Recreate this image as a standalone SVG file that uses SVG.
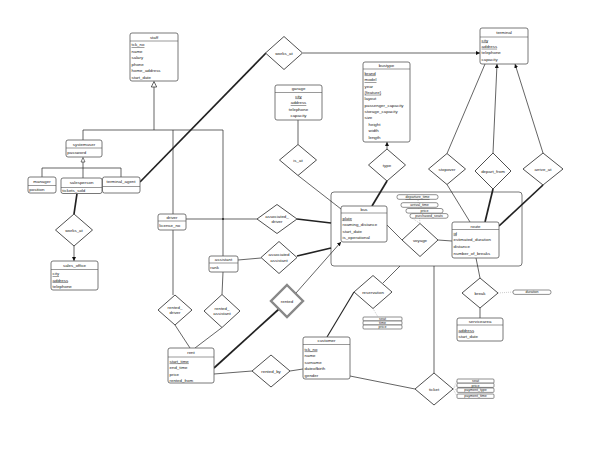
<svg xmlns="http://www.w3.org/2000/svg" width="600" height="460" viewBox="0 0 600 460">
<defs>
<marker id="ah" viewBox="0 0 6 6" refX="6" refY="3" markerWidth="4" markerHeight="4" orient="auto" markerUnits="userSpaceOnUse">
<path d="M0,0 L6,3 L0,6 z" fill="#111"/>
</marker>
<style>
.bx{fill:#fff;stroke:#555;stroke-width:0.8}
.sp{stroke:#555;stroke-width:0.6}
.t{font-family:"Liberation Sans",Arial,sans-serif;font-size:4.4px;fill:#222}
.c{text-anchor:middle}
.u{text-decoration:underline}
.s{font-size:3.6px}
.ln{stroke:#222;stroke-width:0.7;fill:none}
.tk{stroke:#222;stroke-width:1.7;fill:none}
.dm{fill:#fff;stroke:#222;stroke-width:0.8}
.at{fill:#fff;stroke:#444;stroke-width:0.6}
.ds{stroke:#aaa;stroke-width:0.6;stroke-dasharray:1 1;fill:none}
</style>
</defs>
<rect width="600" height="460" fill="#fff"/>
<g id="aggregation"><rect x="331" y="192" width="191" height="74" rx="3" fill="none" stroke="#555" stroke-width="0.8"/></g>
<g id="connectors">
<line class="ln" x1="154" y1="87" x2="154" y2="130"/>
<polyline class="ln" points="83,140 83,130 223,130 223,256"/>
<line class="ln" x1="173" y1="130" x2="173" y2="214"/>
<line class="ln" x1="83" y1="162" x2="83" y2="178"/>
<polyline class="ln" points="42,177 42,168 121,168 121,177"/>
<line class="tk" x1="140" y1="182" x2="266" y2="53"/>
<line class="ln" x1="303" y1="53" x2="480" y2="53" marker-end="url(#ah)"/>
<line class="tk" x1="77" y1="193.5" x2="74" y2="214"/>
<line class="ln" x1="74" y1="246" x2="74" y2="261" marker-end="url(#ah)"/>
<line class="ln" x1="298" y1="120" x2="298" y2="144.5"/>
<line class="ln" x1="298" y1="175.5" x2="341" y2="209"/>
<line class="ln" x1="387" y1="149" x2="387" y2="142" marker-end="url(#ah)"/>
<line class="tk" x1="387" y1="181" x2="372" y2="206"/>
<line class="ln" x1="447" y1="153.5" x2="485" y2="64"/>
<line class="ln" x1="493" y1="153" x2="497" y2="64" marker-end="url(#ah)"/>
<line class="ln" x1="543" y1="153" x2="515" y2="64" marker-end="url(#ah)"/>
<line class="ln" x1="447" y1="184.5" x2="470" y2="222"/>
<line class="tk" x1="493" y1="189" x2="485" y2="222"/>
<line class="tk" x1="543" y1="185" x2="499" y2="226"/>
<line class="ln" x1="387" y1="225" x2="402" y2="240"/>
<line class="ln" x1="438" y1="240" x2="452" y2="241"/>
<line class="ln" x1="476" y1="258" x2="480" y2="278"/>
<line class="ln" x1="480" y1="308" x2="480" y2="318"/>
<line class="ln" x1="186" y1="219" x2="257" y2="219"/>
<circle cx="223" cy="219" r="1" fill="#222"/>
<line class="tk" x1="297" y1="219" x2="331" y2="223"/>
<line class="ln" x1="238" y1="260" x2="261" y2="258"/>
<line class="tk" x1="297" y1="256" x2="331" y2="248"/>
<line class="ln" x1="173" y1="230" x2="173" y2="295"/>
<line class="ln" x1="223" y1="272" x2="222" y2="294.5"/>
<line class="ln" x1="175" y1="325" x2="190" y2="348"/>
<line class="ln" x1="222" y1="327.5" x2="195" y2="348"/>
<line class="tk" x1="214" y1="368" x2="279" y2="309"/>
<line class="ln" x1="296" y1="293" x2="341" y2="242" marker-end="url(#ah)"/>
<line class="ln" x1="214" y1="374" x2="252" y2="371"/>
<line class="ln" x1="290" y1="371" x2="303" y2="369"/>
<line class="ln" x1="400" y1="266" x2="383" y2="283"/>
<line class="ln" x1="354" y1="292" x2="327" y2="337" style="stroke-width:1.1"/>
<line class="ln" x1="350" y1="376" x2="415" y2="389"/>
<line class="ln" x1="434" y1="266" x2="434" y2="373"/>
<line class="ds" x1="418" y1="200" x2="420" y2="223.5"/>
<line class="ds" x1="412" y1="218" x2="420" y2="223.5"/>
<line class="ds" x1="373" y1="308.5" x2="378" y2="317"/>
<line class="ds" x1="453" y1="389" x2="457" y2="381"/>
<line class="ds" x1="453" y1="389" x2="457" y2="385"/>
<line class="ds" x1="453" y1="389" x2="457" y2="390"/>
<line class="ds" x1="453" y1="389" x2="457" y2="396"/>
<line class="ds" x1="498" y1="293" x2="513" y2="292"/>
</g>
<g id="staff"><rect class="bx" x="130" y="33" width="48" height="48" rx="2"/><line class="sp" x1="130" y1="41" x2="178" y2="41"/>
<text class="t c" x="154" y="38.6">staff</text>
<text class="t u" x="131.5" y="46">tck_no</text><text class="t" x="131.5" y="52.5">name</text><text class="t" x="131.5" y="59">salary</text><text class="t" x="131.5" y="65.5">phone</text><text class="t" x="131.5" y="72">home_address</text><text class="t" x="131.5" y="78.5">start_date</text>
<polygon points="154,81.5 151.3,87 156.7,87" fill="#fff" stroke="#222" stroke-width="0.7"/></g>
<g id="terminal"><rect class="bx" x="480" y="28" width="48" height="36" rx="2"/><line class="sp" x1="480" y1="37" x2="528" y2="37"/>
<text class="t c" x="504" y="33.8">terminal</text>
<text class="t u" x="481.5" y="41.6">city</text><text class="t u" x="481.5" y="47.8">address</text><text class="t" x="481.5" y="54.2">telephone</text><text class="t" x="481.5" y="60.6">capacity</text></g>
<g id="bustype"><rect class="bx" x="363" y="62" width="47" height="80" rx="2"/><line class="sp" x1="363" y1="69" x2="410" y2="69"/>
<text class="t c" x="386.5" y="66.8">bustype</text>
<text class="t u" x="364.5" y="74.6">brand</text><text class="t u" x="364.5" y="81">model</text><text class="t" x="364.5" y="87.6">year</text><text class="t u" x="364.5" y="93.8">{feature}</text><text class="t" x="364.5" y="100.2">layout</text><text class="t" x="364.5" y="106.6">passenger_capacity</text><text class="t" x="364.5" y="112.8">storage_capacity</text><text class="t" x="364.5" y="119.2">size</text><text class="t" x="368.5" y="125.6">height</text><text class="t" x="368.5" y="132.2">width</text><text class="t" x="368.5" y="138.6">length</text></g>
<g id="garage"><rect class="bx" x="275" y="85" width="47" height="35" rx="2"/><line class="sp" x1="275" y1="92.5" x2="322" y2="92.5"/>
<text class="t c" x="298.5" y="90.3">garage</text>
<text class="t c u" x="298.5" y="97.6">city</text><text class="t c u" x="298.5" y="104.2">address</text><text class="t c" x="298.5" y="110.6">telephone</text><text class="t c" x="298.5" y="117.2">capacity</text></g>
<g id="bus"><rect class="bx" x="341" y="206" width="46" height="36" rx="2"/><line class="sp" x1="341" y1="213" x2="387" y2="213"/>
<text class="t c" x="364" y="210.8">bus</text>
<text class="t u" x="342.5" y="219.6">plate</text><text class="t" x="342.5" y="226">roaming_distance</text><text class="t" x="342.5" y="232.6">start_date</text><text class="t" x="342.5" y="238.8">is_operational</text></g>
<g id="route"><rect class="bx" x="452" y="222" width="47" height="36" rx="2"/><line class="sp" x1="452" y1="229.5" x2="499" y2="229.5"/>
<text class="t c" x="475.5" y="227.6">route</text>
<text class="t u" x="453.5" y="234.6">id</text><text class="t" x="453.5" y="241.4">estimated_duration</text><text class="t" x="453.5" y="248.4">distance</text><text class="t" x="453.5" y="254.8">number_of_breaks</text></g>
<g id="customer"><rect class="bx" x="303" y="337" width="47" height="42" rx="2"/><line class="sp" x1="303" y1="344.5" x2="350" y2="344.5"/>
<text class="t c" x="326.5" y="342.4">customer</text>
<text class="t u" x="304.5" y="350.6">tck_no</text><text class="t" x="304.5" y="357.2">name</text><text class="t" x="304.5" y="363.6">surname</text><text class="t" x="304.5" y="370.2">dateofbirth</text><text class="t" x="304.5" y="376.6">gender</text></g>
<g id="servicearea"><rect class="bx" x="457" y="318" width="46" height="23" rx="2"/><line class="sp" x1="457" y1="325" x2="503" y2="325"/>
<text class="t c" x="480" y="323.4">servicearea</text>
<text class="t u" x="458.5" y="331.6">address</text><text class="t" x="458.5" y="337.6">start_date</text></g>
<g id="rent"><rect class="bx" x="168" y="348" width="46" height="35" rx="2"/><line class="sp" x1="168" y1="357" x2="214" y2="357"/>
<text class="t c" x="191" y="354.4">rent</text>
<text class="t u" x="169.5" y="362.6">start_time</text><text class="t" x="169.5" y="369.4">end_time</text><text class="t" x="169.5" y="375.6">price</text><text class="t" x="169.5" y="381.6">rented_from</text></g>
<g id="driver"><rect class="bx" x="158" y="214" width="28" height="16" rx="2"/><line class="sp" x1="158" y1="221" x2="186" y2="221"/>
<text class="t c" x="172" y="219">driver</text><text class="t" x="159.3" y="227">license_no</text></g>
<g id="assistant"><rect class="bx" x="209" y="256" width="29" height="16" rx="2"/><line class="sp" x1="209" y1="263" x2="238" y2="263"/>
<text class="t c" x="223.5" y="261">assistant</text><text class="t" x="210.3" y="269.4">rank</text></g>
<g id="systemuser"><rect class="bx" x="66" y="140" width="36" height="17" rx="2"/><line class="sp" x1="66" y1="148" x2="102" y2="148"/>
<text class="t c" x="84" y="145.5">systemuser</text><text class="t" x="67.3" y="153.6">password</text>
<polygon points="83,157.5 81,162 85,162" fill="#fff" stroke="#222" stroke-width="0.6"/></g>
<g id="manager"><rect class="bx" x="28" y="177" width="28" height="16" rx="2"/><line class="sp" x1="28" y1="185.5" x2="56" y2="185.5"/>
<text class="t c" x="42" y="183.2">manager</text><text class="t" x="29.3" y="191">position</text></g>
<g id="salesperson"><rect class="bx" x="61" y="178" width="41" height="15.5" rx="2"/><line class="sp" x1="61" y1="187.5" x2="102" y2="187.5"/>
<text class="t c" x="81.5" y="184.4">salesperson</text><text class="t" x="62.3" y="192.2">tickets_sold</text></g>
<g id="terminal_agent"><rect class="bx" x="102.5" y="177" width="37.5" height="16" rx="2"/><line class="sp" x1="102.5" y1="186.5" x2="140" y2="186.5"/>
<text class="t c" x="121" y="183.4">terminal_agent</text></g>
<g id="sales_office"><rect class="bx" x="51" y="261" width="47" height="29" rx="2"/><line class="sp" x1="51" y1="269.5" x2="98" y2="269.5"/>
<text class="t c" x="74.5" y="266.6">sales_office</text>
<text class="t u" x="52.5" y="275">city</text><text class="t u" x="52.5" y="281.5">address</text><text class="t" x="52.5" y="288">telephone</text></g>
<g id="works_at_terminal"><polygon class="dm" points="284,36.5 302.5,53 284,69.5 265.5,53"/><text class="t c" x="284" y="54.5">works_at</text></g>
<g id="is_at"><polygon class="dm" points="298,144.5 316.5,160 298,175.5 279.5,160"/><text class="t c" x="298" y="161.5">is_at</text></g>
<g id="type"><polygon class="dm" points="387,149 405.5,165 387,181 368.5,165"/><text class="t c" x="387" y="166.5">type</text></g>
<g id="stopover"><polygon class="dm" points="447,153.5 465.5,169 447,184.5 428.5,169"/><text class="t c" x="447" y="170.5">stopover</text></g>
<g id="depart_from"><polygon class="dm" points="493,153 511,171 493,189 475,171"/><text class="t c" x="493" y="172.5">depart_from</text></g>
<g id="arrive_at"><polygon class="dm" points="543,153 563,169 543,185 523,169"/><text class="t c" x="543" y="170.5">arrive_at</text></g>
<g id="works_at_office"><polygon class="dm" points="74,214 92.5,230 74,246 55.5,230"/><text class="t c" x="74" y="231.5">works_at</text></g>
<g id="associated_driver"><polygon class="dm" points="277,204.5 297,219 277,233.5 257,219"/><text class="t c" x="277" y="218">associated_</text><text class="t c" x="277" y="223.2">driver</text></g>
<g id="associated_assistant"><polygon class="dm" points="279,241.5 297,257.5 279,273.5 261,257.5"/><text class="t c" x="279" y="256.4">associated</text><text class="t c" x="279" y="261.6">assistant</text></g>
<g id="voyage"><polygon class="dm" points="420,223.5 438,240 420,256.5 402,240"/><text class="t c" x="420" y="241.5">voyage</text>
<rect class="at" x="397" y="194.7" width="41" height="4.6" rx="2"/><text class="t c s u" x="417.5" y="198.3">departure_time</text>
<rect class="at" x="401" y="202.7" width="37" height="4.6" rx="2"/><text class="t c s" x="419.5" y="206.3">arrival_time</text>
<rect class="at" x="406" y="208.5" width="37" height="4.6" rx="2"/><text class="t c s" x="424.5" y="212.1">price</text>
<rect class="at" x="410" y="213.6" width="38" height="4.6" rx="2"/><text class="t c s" x="429" y="217.2">purchased_seats</text></g>
<g id="reservation"><polygon class="dm" points="373,275.5 392,292 373,308.5 354,292"/><text class="t c" x="373" y="293.5">reservation</text>
<rect class="at" x="363" y="317" width="39" height="4" rx="1"/><text class="t c s u" x="382.5" y="320.3">seat</text>
<rect class="at" x="363" y="321" width="39" height="4" rx="1"/><text class="t c s" x="382.5" y="324.3">time</text>
<rect class="at" x="363" y="325" width="39" height="4" rx="1"/><text class="t c s" x="382.5" y="328.3">price</text></g>
<g id="break"><polygon class="dm" points="480,278 498,293 480,308 462,293"/><text class="t c" x="480" y="294.5">break</text>
<rect class="at" x="513" y="290" width="38" height="4.4" rx="2"/><text class="t c s" x="532" y="293.4">duration</text></g>
<g id="rented"><polygon points="287,285 303,301 287,317 271,301" fill="#fff" stroke="#888" stroke-width="2.4"/><text class="t c" x="287" y="302.5">rented</text></g>
<g id="rented_driver"><polygon class="dm" points="175,295 192,310 175,325 158,310"/><text class="t c" x="175" y="309">rented_</text><text class="t c" x="175" y="314.2">driver</text></g>
<g id="rented_assistant"><polygon class="dm" points="222,294.5 240,311 222,327.5 204,311"/><text class="t c" x="222" y="310">rented_</text><text class="t c" x="222" y="315.2">assistant</text></g>
<g id="rented_by"><polygon class="dm" points="271,355 290,371 271,387 252,371"/><text class="t c" x="271" y="372.5">rented_by</text></g>
<g id="ticket"><polygon class="dm" points="434,373 453,389 434,405 415,389"/><text class="t c" x="434" y="390.5">ticket</text>
<rect class="at" x="457" y="379" width="37" height="4.2" rx="1"/><text class="t c s u" x="475.5" y="382.3">seat</text>
<rect class="at" x="457" y="383.2" width="37" height="4.2" rx="1"/><text class="t c s" x="475.5" y="386.5">price</text>
<rect class="at" x="457" y="388" width="37" height="4.4" rx="1"/><text class="t c s" x="475.5" y="391.4">payment_type</text>
<rect class="at" x="457" y="394" width="37" height="4.4" rx="1"/><text class="t c s" x="475.5" y="397.4">payment_time</text></g>
</svg>
